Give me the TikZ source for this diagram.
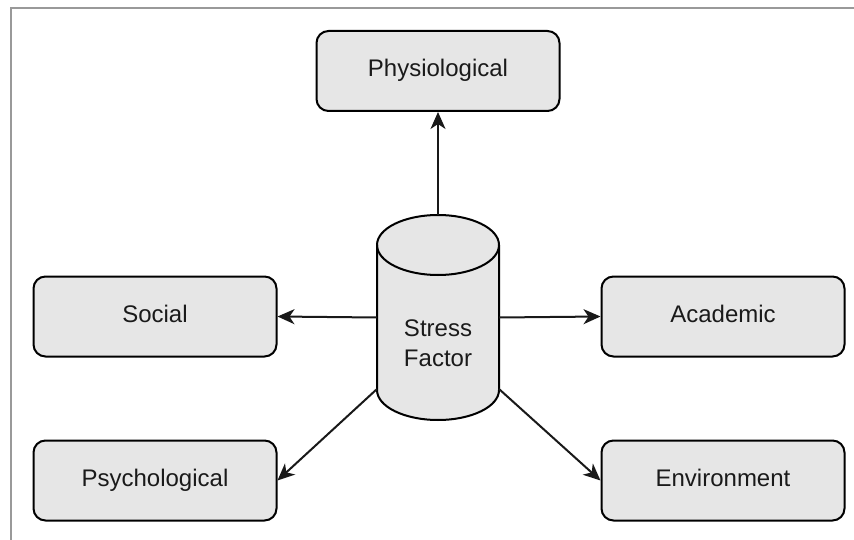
\documentclass[tikz,border=0pt]{standalone}
\usepackage{fontspec}
\setmainfont{Liberation Sans}
\usetikzlibrary{arrows.meta}
\definecolor{boxfill}{HTML}{E6E6E6}
\definecolor{framegray}{HTML}{999999}
\definecolor{txt}{HTML}{1A1A1A}
\begin{document}
\begin{tikzpicture}[x=1pt,y=-1pt]
\tikzset{
  factorbox/.style={draw=black, line width=2pt, fill=boxfill, rounded corners=12pt,
    minimum width=243pt, minimum height=80pt, inner sep=0pt,
    text height=17pt, text depth=5pt,
    font=\fontsize{24}{28}\selectfont, text=txt},
  conn/.style={line width=2pt, draw=black!90,
    arrows={-Stealth[length=17pt,width=15pt,inset=5pt]}}
}
\useasboundingbox (0,0) rectangle (854,540);
% frame
\draw[framegray, line width=2pt] (11,540) -- (11,8.5) -- (854,8.5);

% boxes
\node[factorbox] (phys) at (438,71) {Physiological};
\node[factorbox] (soc) at (155,316.5) {Social};
\node[factorbox] (acad) at (723,316.5) {Academic};
\node[factorbox] (psy) at (155,480.5) {Psychological};
\node[factorbox] (env) at (723,480.5) {Environment};

% cylinder
\filldraw[draw=black, line width=2pt, fill=boxfill]
  (377,245) -- (377,390) arc[start angle=180, end angle=0, x radius=61, y radius=30]
  -- (499,245) arc[start angle=0, end angle=-180, x radius=61, y radius=30] -- cycle;
\draw[black, line width=2pt] (377,245) arc[start angle=180, end angle=0, x radius=61, y radius=30];
\node[minimum width=122pt, minimum height=205pt, inner sep=0pt] (cyl) at (438,317.5) {};
\node[align=center, font=\fontsize{24}{30}\selectfont, text=txt] (cyltext) at (438,343) {Stress\\Factor};
\coordinate (cylbl) at (377,389);
\coordinate (cylbr) at (499,389);

% connectors
\draw[conn] (cyl.north) -- (phys.south);
\draw[conn] (cyl.west) -- (soc.east);
\draw[conn] (cyl.east) -- (acad.west);
\draw[conn] (cylbl) -- (psy.east);
\draw[conn] (cylbr) -- (env.west);
\end{tikzpicture}
\end{document}
